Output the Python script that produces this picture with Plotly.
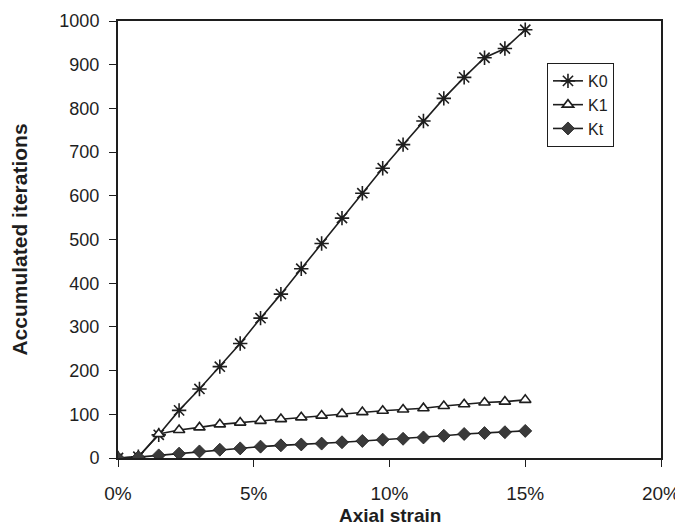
import plotly.graph_objects as go

strain = [0.0, 0.0075, 0.015, 0.0225, 0.03, 0.0375, 0.045, 0.0525, 0.06, 0.0675, 0.075,
          0.0825, 0.09, 0.0975, 0.105, 0.1125, 0.12, 0.1275, 0.135, 0.1425, 0.15]
k0 = [0, 3, 53, 109, 158, 209, 262, 320, 375, 433, 491,
      549, 606, 663, 717, 771, 823, 871, 916, 937, 980]
k1 = [0, 2, 55, 64, 70, 77, 81, 85, 89, 93, 97,
      101, 105, 108, 111, 114, 119, 123, 127, 129, 133]
kt = [0, 2, 6, 10, 15, 19, 22, 26, 29, 31, 33,
      36, 39, 42, 44, 47, 51, 55, 57, 59, 62]

x_ticks = [0, 0.05, 0.10, 0.15, 0.20]
x_ticktext = ["0%", "5%", "10%", "15%", "20%"]
y_ticks = list(range(0, 1001, 100))

ink = "#1e1e1e"
font = "Liberation Sans, Arial, sans-serif"

fig = go.Figure()
fig.add_trace(go.Scatter(
    x=strain, y=k0, name="K0", mode="lines+markers",
    line=dict(color=ink, width=1.6),
    marker=dict(symbol="asterisk-open", size=12, color=ink, line=dict(color=ink, width=1.6)),
))
fig.add_trace(go.Scatter(
    x=strain, y=k1, name="K1", mode="lines+markers",
    line=dict(color=ink, width=1.6),
    marker=dict(symbol="triangle-up", size=10, color="white", line=dict(color=ink, width=1.6)),
))
fig.add_trace(go.Scatter(
    x=strain, y=kt, name="Kt", mode="lines+markers",
    line=dict(color=ink, width=1.6),
    marker=dict(symbol="diamond", size=10, color="#3a3a3a", line=dict(color=ink, width=0.8)),
))

fig.update_layout(
    width=683, height=527,
    margin=dict(l=110, r=30, t=13, b=77),
    paper_bgcolor="white", plot_bgcolor="white",
    font=dict(family=font, size=17, color=ink),
    showlegend=True,
    legend=dict(
        x=0.79, y=0.904, xanchor="left", yanchor="top",
        bgcolor="white", bordercolor=ink, borderwidth=1,
        font=dict(size=16, color=ink), itemwidth=30,
    ),
    xaxis=dict(
        range=[0, 0.2], tickvals=x_ticks, ticktext=x_ticktext,
        automargin=False,
        showline=True, linecolor=ink, linewidth=2, mirror=True,
        ticks="outside", ticklen=7, tickcolor=ink, tickwidth=1,
        showgrid=False, zeroline=False,
        tickfont=dict(size=19, color=ink), ticklabelstandoff=10,
    ),
    yaxis=dict(
        range=[0, 1000], tickvals=y_ticks,
        automargin=False,
        showline=True, linecolor=ink, linewidth=2, mirror=True,
        ticks="outside", ticklen=7, tickcolor=ink, tickwidth=1,
        showgrid=False, zeroline=False,
        tickfont=dict(size=18, color=ink), ticklabelstandoff=6,
        title=dict(text="<b>Accumulated iterations</b>", font=dict(size=21, color=ink), standoff=27),
    ),
    annotations=[dict(
        text="<b>Axial strain</b>", xref="paper", yref="paper", x=0.5, y=0,
        xanchor="center", yanchor="middle", yshift=-57, showarrow=False,
        font=dict(size=19, color=ink),
    )],
)

fig.write_html("out.html")
